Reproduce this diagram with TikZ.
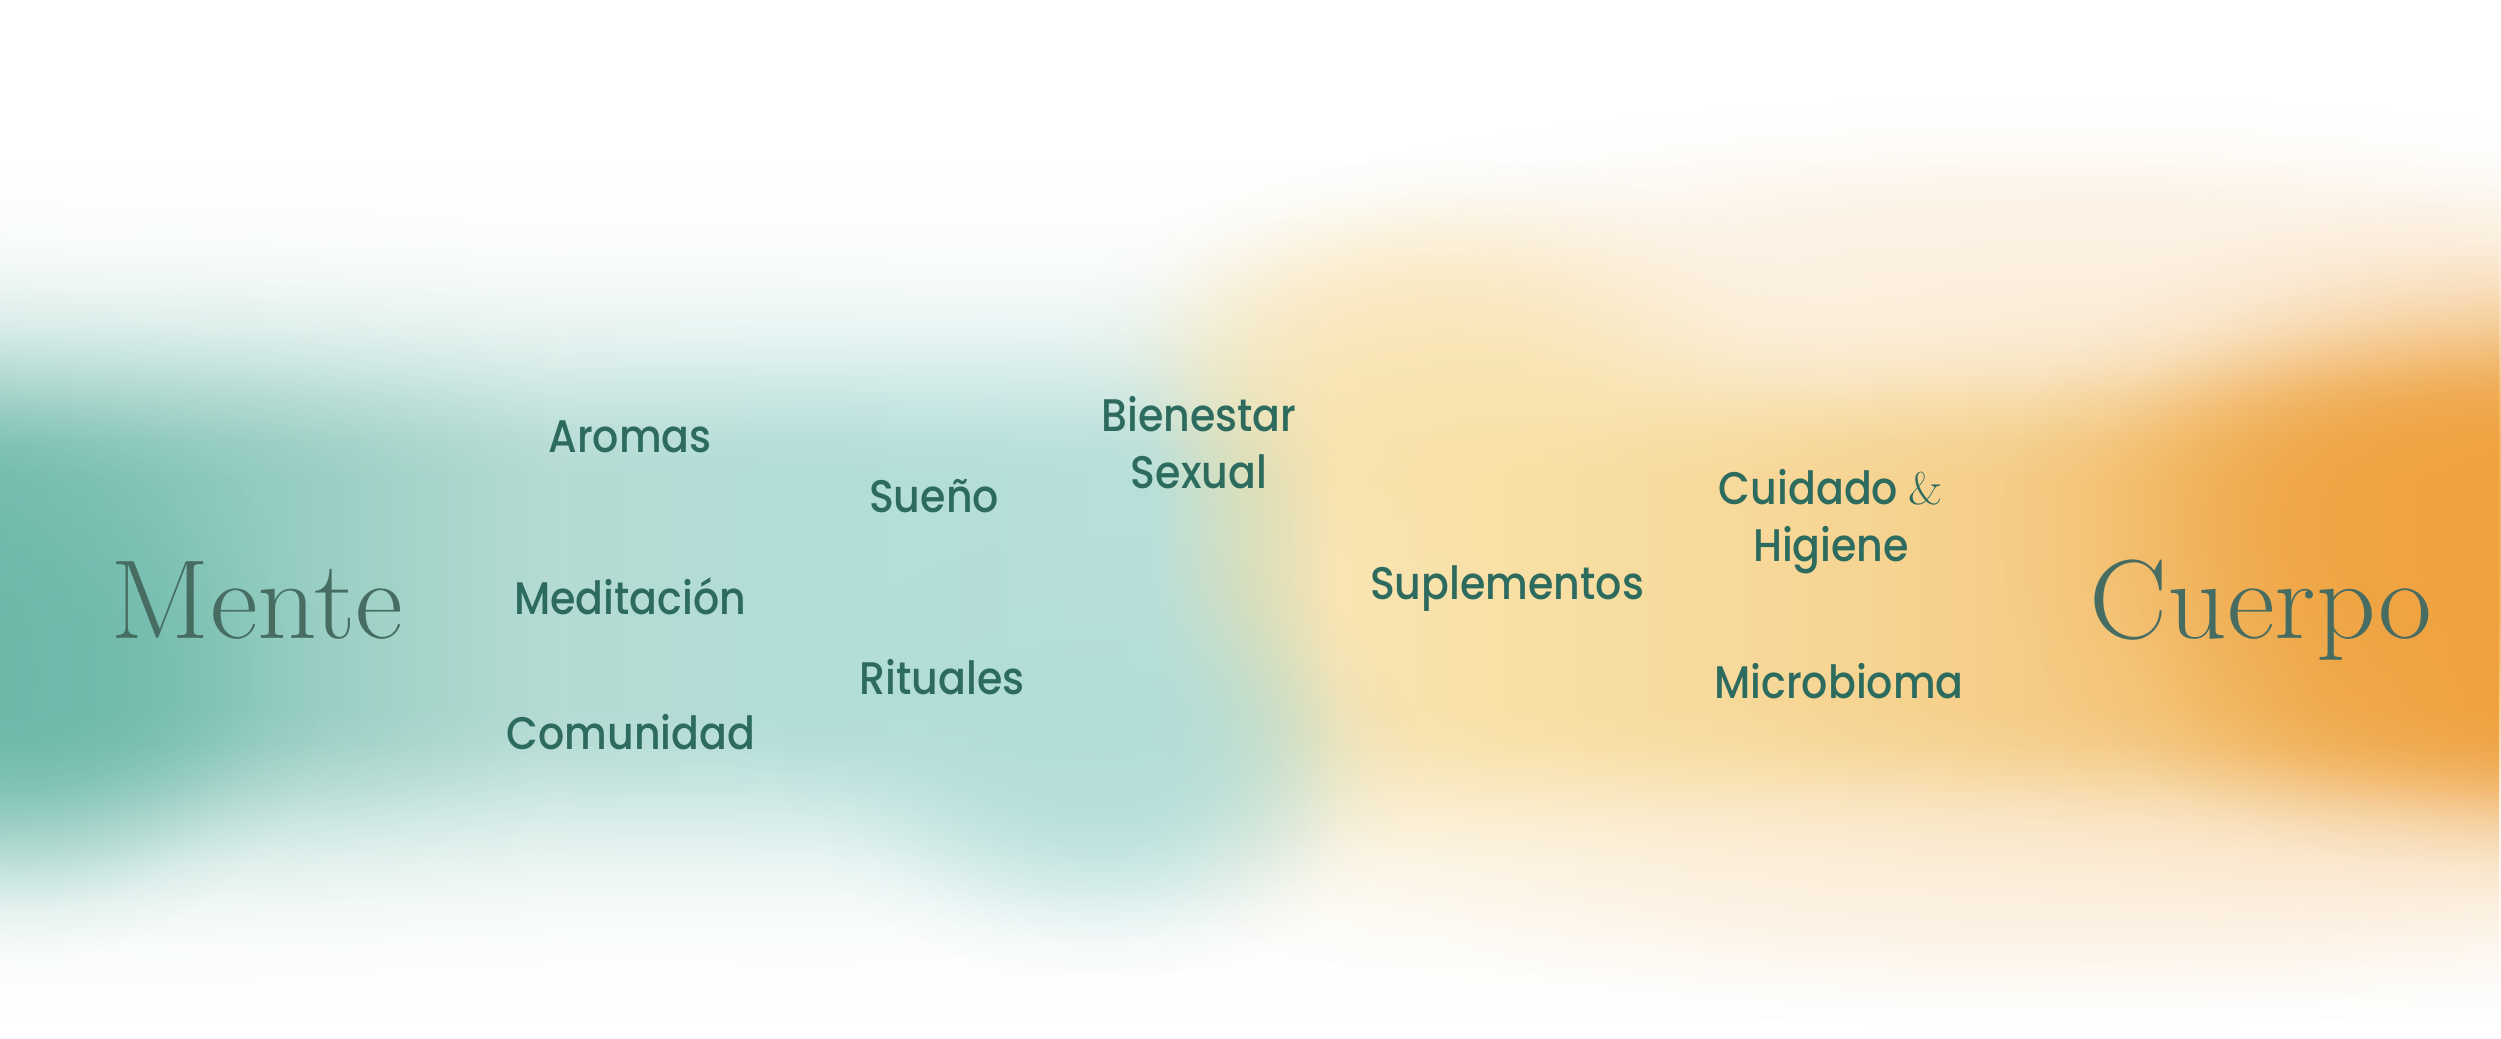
\documentclass[tikz,border=0pt]{standalone}
\usepackage{fontspec}
\usepackage{tikz}
\usetikzlibrary{fadings}

\newfontfamily\topicfont{Poppins Medium}[FakeStretch=0.9]
\newfontfamily\polefont{lmroman17-regular}[Extension=.otf, FakeStretch=1.04]

\definecolor{leaf}{HTML}{2E6B5F}
\definecolor{moss}{HTML}{476D63}
\definecolor{tealdeep}{HTML}{62B4A4}
\definecolor{tealsoft}{HTML}{B2DDD8}
\definecolor{sand}{HTML}{F8E0A6}
\definecolor{amber}{HTML}{EFA23F}
\definecolor{cream}{HTML}{FBE6CB}

% colour band, left to right (inner 25bp--75bp covers the picture)
\pgfdeclarehorizontalshading{bandshade}{100bp}{%
  color(0bp)=(tealdeep!85!white); color(25bp)=(tealdeep!85!white);
  color(30bp)=(tealdeep!70!white); color(36bp)=(tealdeep!48!white);
  color(41.5bp)=(tealsoft); color(48bp)=(tealsoft!92!white);
  color(50bp)=(tealsoft!45!sand); color(51.75bp)=(sand!85!white);
  color(55bp)=(sand); color(60bp)=(sand!88!amber);
  color(64bp)=(sand!75!amber); color(68bp)=(sand!58!amber);
  color(71.5bp)=(amber!75!sand); color(75bp)=(amber); color(100bp)=(amber)}
% the band fades out to white at top and bottom (25bp = bottom, 75bp = top)
\pgfdeclareverticalshading{bandmask}{100bp}{%
  color(0bp)=(black); color(25.72bp)=(black); color(27.65bp)=(white!2!black);
  color(29.58bp)=(white!5!black); color(31.50bp)=(white!13!black); color(33.43bp)=(white!27!black);
  color(35.36bp)=(white!48!black); color(37.28bp)=(white!72!black); color(39.21bp)=(white!92!black);
  color(41.14bp)=(white); color(51.73bp)=(white); color(53.66bp)=(white!92!black);
  color(55.59bp)=(white!72!black); color(57.51bp)=(white!48!black); color(59.44bp)=(white!27!black);
  color(61.37bp)=(white!13!black); color(63.30bp)=(white!5!black); color(65.22bp)=(white!2!black);
  color(67.15bp)=(black); color(100bp)=(black)}
\pgfdeclarefading{bandfade}{\pgfuseshading{bandmask}}
% soft round blob, gone at the path's rim (25bp)
\pgfdeclareradialshading{blobmask}{\pgfpointorigin}{%
  color(0bp)=(white); color(6bp)=(white!95!black); color(10bp)=(white!80!black);
  color(14bp)=(white!55!black); color(18bp)=(white!28!black); color(21bp)=(white!10!black);
  color(25bp)=(black); color(50bp)=(black)}
\pgfdeclarefading{blobfade}{\pgfuseshading{blobmask}}

\begin{document}
\begin{tikzpicture}[every node/.style={inner sep=0pt},
    pole/.style={font=\polefont\fontsize{32}{36}\selectfont, text=moss},
    topic/.style={font=\topicfont\fontsize{13}{16}\selectfont, text=leaf, align=center},
    blob/.style={path fading=blobfade}]
    % canvas
    \fill[white] (0,0) rectangle (25.01,10.38);
    \useasboundingbox (0,0) rectangle (25.01,10.38);

    % background wash
    \shade[shading=bandshade, path fading=bandfade] (0,0) rectangle (25.01,10.38);
    \fill[tealdeep, blob, opacity=0.6]  (0.2,3.6)  ellipse (3.0 and 2.8);
    \fill[tealsoft, blob, opacity=0.85] (11.0,2.8) ellipse (3.2 and 2.2);
    \fill[sand, blob, opacity=0.7]      (14.4,6.8) ellipse (3.8 and 2.0);
    \fill[amber, blob, opacity=0.85]    (24.8,5.1) ellipse (4.8 and 3.4);
    \fill[cream, blob, opacity=0.5]     (20.5,7.8) ellipse (8.6 and 1.6);
    \fill[cream, blob, opacity=0.45]    (20.5,1.5) ellipse (8.6 and 1.4);

    % the two poles
    \node[pole, anchor=base] (mente)  at (2.57,4.00)  {Mente};
    \node[pole, anchor=base] (cuerpo) at (22.61,4.00) {Cuerpo};

    % mind side
    \node[topic, anchor=base] (aromas)     at (6.30,5.86) {Aromas};
    \node[topic, anchor=base] (meditacion) at (6.30,4.24) {Meditación};
    \node[topic, anchor=base] (comunidad)  at (6.31,2.89) {Comunidad};
    \node[topic, anchor=base] (sueno)      at (9.34,5.26) {Sueño};
    \node[topic, anchor=base] (rituales)   at (9.42,3.44) {Rituales};
    \node[topic, anchor=base] (bienestar)  at (11.99,5.50) {Bienestar\\Sexual};

    % body side
    \node[topic, anchor=base] (suplementos) at (15.07,4.39) {Suplementos};
    \node[topic, anchor=base] (cuidado)     at (18.31,4.77) {Cuidado {\polefont\&}\\Higiene};
    \node[topic, anchor=base] (microbioma)  at (18.39,3.40) {Microbioma};
\end{tikzpicture}
\end{document}
